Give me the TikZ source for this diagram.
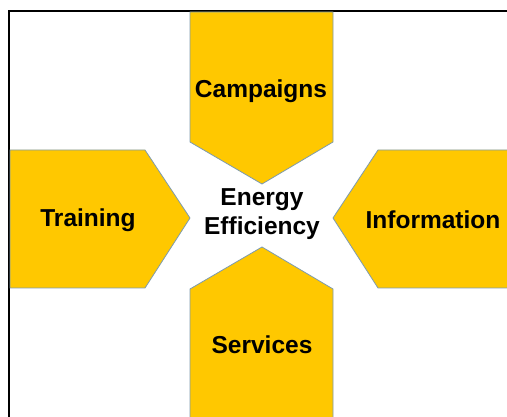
\documentclass[tikz,border=0pt]{standalone}
\usepackage{fontspec}
\setmainfont{Liberation Sans}
\definecolor{arrowfill}{RGB}{255,200,0}
\definecolor{arrowedge}{RGB}{125,155,175}
\tikzset{
  arrowshape/.style={fill=arrowfill, draw=arrowedge, line width=0.8pt, line join=miter},
  lbl/.style={font=\bfseries\fontsize{24.5}{29}\selectfont, align=center, inner sep=0pt}
}
\begin{document}
\begin{tikzpicture}[x=1pt,y=-1pt]
\useasboundingbox (0,0) rectangle (507,417);
\begin{scope}
\clip (0,0) rectangle (507,417);
\fill[white] (0,0) rectangle (507,417);
\draw[black, line width=2pt] (9,11) rectangle (540,450);
% Campaigns (down arrow)
\draw[arrowshape] (190,12) -- (333,12) -- (333,142) -- (262,184) -- (190,142) -- cycle;
% Training (right arrow)
\draw[arrowshape] (10,150) -- (145,150) -- (190,218) -- (145,288) -- (10,288) -- cycle;
% Information (left arrow)
\draw[arrowshape] (520,150) -- (378,150) -- (333,218) -- (378,288) -- (520,288) -- cycle;
% Services (up arrow)
\draw[arrowshape] (190,430) -- (190,289) -- (262,247) -- (333,289) -- (333,430) -- cycle;
\end{scope}
\node[lbl] (camp) at (261,91) {Campaigns};
\node[lbl] (train) at (88,220) {Training};
\node[lbl] (info) at (433,220) {Information};
\node[lbl] (serv) at (262,345) {Services};
\node[lbl] (ee) at (262,214) {Energy\\Efficiency};
\end{tikzpicture}
\end{document}
